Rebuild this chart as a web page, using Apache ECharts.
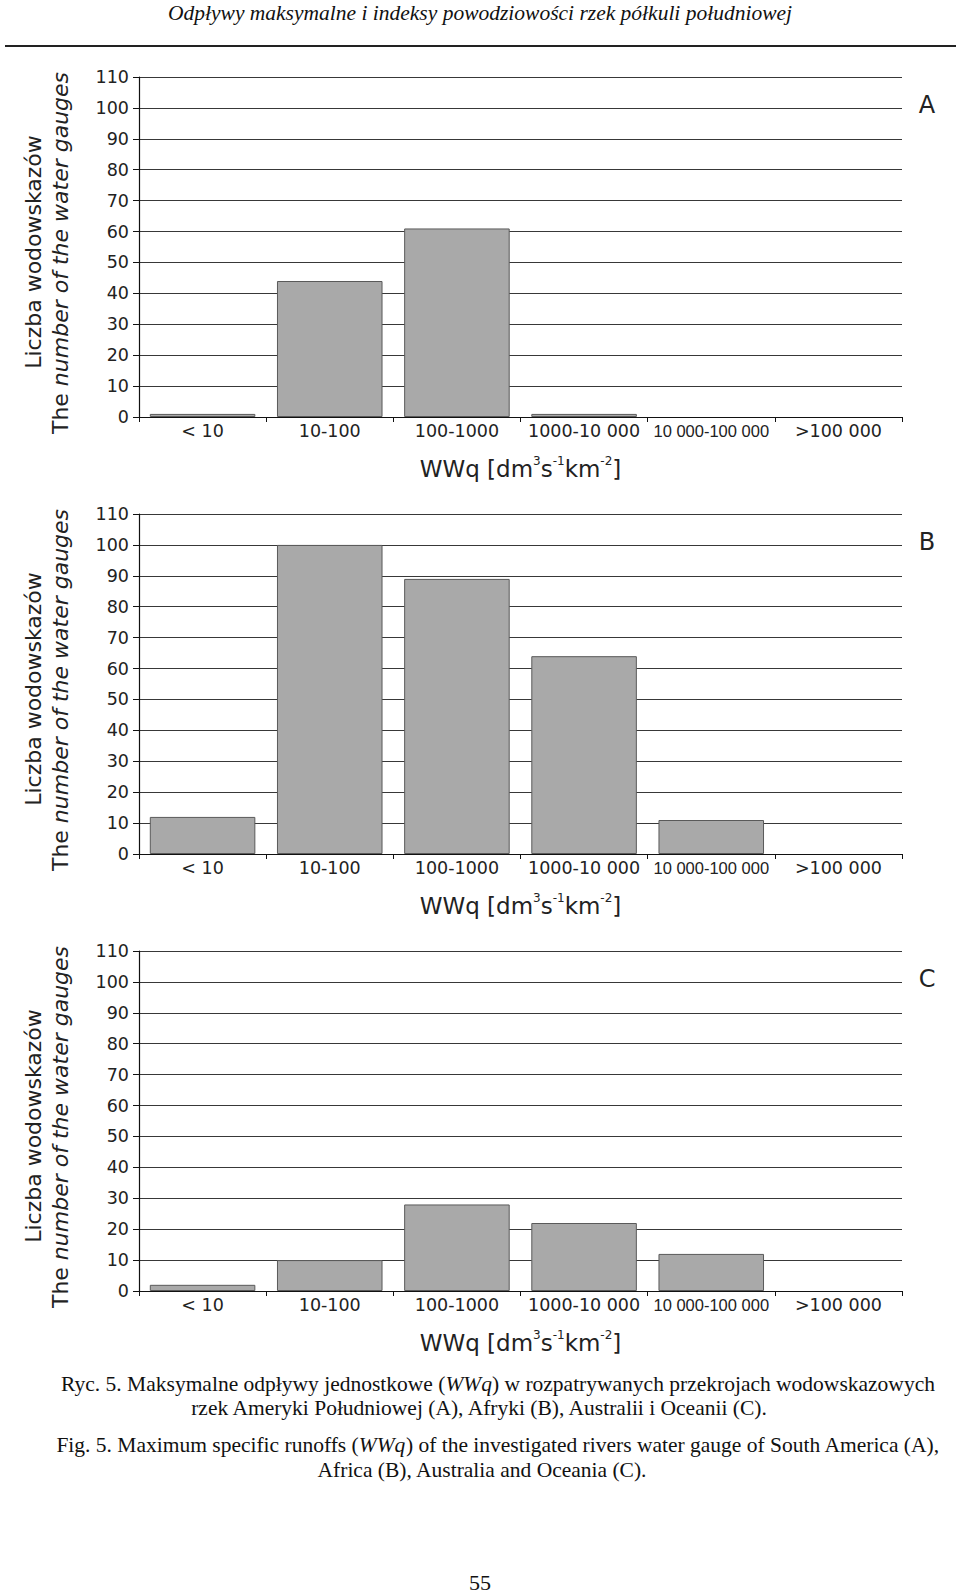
<!DOCTYPE html>
<html>
<head>
<meta charset="utf-8">
<title>Ryc. 5. WWq</title>
<script src="https://cdn.jsdelivr.net/npm/echarts@6/dist/echarts.min.js"></script>
<style>
    html, body { margin: 0; padding: 0; background: #ffffff; }
    #chart { width: 960px; height: 1595px; }
</style>
</head>
<body>
<div id="chart"></div>
<script>
    // klasy WWq [dm3 s-1 km-2]
    var categories = ['< 10', '10-100', '100-1000', '1000-10 000', '10 000-100 000', '>100 000'];
    // liczba wodowskazow w klasach
    var southAmerica = [1, 44, 61, 1, 0, 0];        // A
    var africa = [12, 100, 89, 64, 11, 0];          // B
    var australiaOceania = [2, 10, 28, 22, 12, 0];  // C
    var panelLetters = ['A', 'B', 'C'];
    var yMin = 0, yMax = 110, yStep = 10;

    var panels = [southAmerica, africa, australiaOceania];
    var gridTops = [77, 514, 951];
    var gridHeight = 340;

    var chart = echarts.init(document.getElementById('chart'), null, {renderer: 'svg'});

    var grids = [], xAxes = [], yAxes = [], series = [], graphics = [];

    panels.forEach(function (values, i) {
        grids.push({left: 139, right: 58, top: gridTops[i], height: gridHeight});
        xAxes.push({
            type: 'category',
            gridIndex: i,
            data: categories,
            axisLine: {lineStyle: {color: '#111', width: 1.2}},
            axisTick: {show: true, length: 5, lineStyle: {color: '#111'}},
            axisLabel: {
                fontFamily: 'DejaVu Sans',
                fontSize: 17.5,
                color: '#222',
                margin: 5,
                interval: 0,
                formatter: function (v) {
                    // ta etykieta jest wezsza w oryginale
                    return v === '10 000-100 000' ? '{n|' + v + '}' : v;
                },
                rich: {n: {fontFamily: 'Liberation Sans', fontSize: 16.5, color: '#222'}}
            },
            name: '{b|WWq [dm}{s|3}{b|s}{s|-1}{b|km}{s|-2}{b|]}',
            nameLocation: 'middle',
            nameGap: 38,
            nameTextStyle: {
                rich: {
                    b: {fontFamily: 'DejaVu Sans', fontSize: 23, color: '#222', lineHeight: 28},
                    s: {fontFamily: 'DejaVu Sans', fontSize: 12, color: '#222', lineHeight: 28, verticalAlign: 'top', padding: [0, 0, 10, 0]}
                }
            }
        });
        yAxes.push({
            type: 'value',
            gridIndex: i,
            min: yMin,
            max: yMax,
            interval: yStep,
            axisLine: {show: true, lineStyle: {color: '#111', width: 1.2}},
            axisTick: {show: true, length: 6, lineStyle: {color: '#111'}},
            axisLabel: {fontFamily: 'DejaVu Sans', fontSize: 17.5, color: '#222', margin: 10},
            splitLine: {show: true, lineStyle: {color: '#383838', width: 1.2}}
        });
        series.push({
            type: 'bar',
            xAxisIndex: i,
            yAxisIndex: i,
            // zerowe slupki bez obrysu
            data: values.map(function (v) {
                return v === 0 ? {value: v, itemStyle: {borderWidth: 0}} : v;
            }),
            barCategoryGap: '17%',
            itemStyle: {color: '#a9a9a9', borderColor: '#5a5a5a', borderWidth: 1},
            silent: true
        });

        var mid = gridTops[i] + gridHeight / 2;
        graphics.push({
            type: 'text',
            x: 927, y: gridTops[i] + 28,
            style: {text: panelLetters[i], font: '24px "DejaVu Sans"', fill: '#222', align: 'center', verticalAlign: 'middle'}
        });
        graphics.push({
            type: 'text',
            x: 33, y: mid + 5,
            rotation: Math.PI / 2,
            style: {text: 'Liczba wodowskazów', font: '22px "DejaVu Sans"', fill: '#222', align: 'center', verticalAlign: 'middle'}
        });
        graphics.push({
            type: 'text',
            x: 60, y: mid + 6,
            rotation: Math.PI / 2,
            style: {
                text: '{r|The }{i|number of the water gauges}',
                align: 'center', verticalAlign: 'middle',
                rich: {
                    r: {font: '22px "DejaVu Sans"', fill: '#222'},
                    i: {font: 'italic 22px "DejaVu Sans"', fill: '#222'}
                }
            }
        });
    });

    // naglowek strony i podpis ryciny
    graphics.push({
        type: 'text', x: 480, y: 13,
        style: {text: 'Odpływy maksymalne i indeksy powodziowości rzek półkuli południowej',
            font: 'italic 21.5px "Liberation Serif"', fill: '#111', align: 'center', verticalAlign: 'middle'}
    });
    graphics.push({
        type: 'line',
        shape: {x1: 5, y1: 46, x2: 956, y2: 46},
        style: {stroke: '#222', lineWidth: 2}
    });
    var serif = '21.5px "Liberation Serif"';
    var captionRich = {
        n: {font: serif, fill: '#111'},
        i: {font: 'italic ' + serif, fill: '#111'}
    };
    graphics.push({
        type: 'text', x: 498, y: 1384,
        style: {text: '{n|Ryc. 5. Maksymalne odpływy jednostkowe (}{i|WWq}{n|) w rozpatrywanych przekrojach wodowskazowych}',
            rich: captionRich, align: 'center', verticalAlign: 'middle'}
    });
    graphics.push({
        type: 'text', x: 479, y: 1408,
        style: {text: 'rzek Ameryki Południowej (A), Afryki (B), Australii i Oceanii (C).',
            font: serif, fill: '#111', align: 'center', verticalAlign: 'middle'}
    });
    graphics.push({
        type: 'text', x: 498, y: 1445,
        style: {text: '{n|Fig. 5. Maximum specific runoffs (}{i|WWq}{n|) of the investigated rivers water gauge of South America (A),}',
            rich: captionRich, align: 'center', verticalAlign: 'middle'}
    });
    graphics.push({
        type: 'text', x: 482, y: 1470,
        style: {text: 'Africa (B), Australia and Oceania (C).',
            font: serif, fill: '#111', align: 'center', verticalAlign: 'middle'}
    });
    graphics.push({
        type: 'text', x: 480, y: 1582,
        style: {text: '55', font: '22px "Liberation Serif"', fill: '#111', align: 'center', verticalAlign: 'middle'}
    });

    chart.setOption({
        backgroundColor: '#ffffff',
        animation: false,
        grid: grids,
        xAxis: xAxes,
        yAxis: yAxes,
        series: series,
        graphic: graphics
    });
</script>
</body>
</html>
